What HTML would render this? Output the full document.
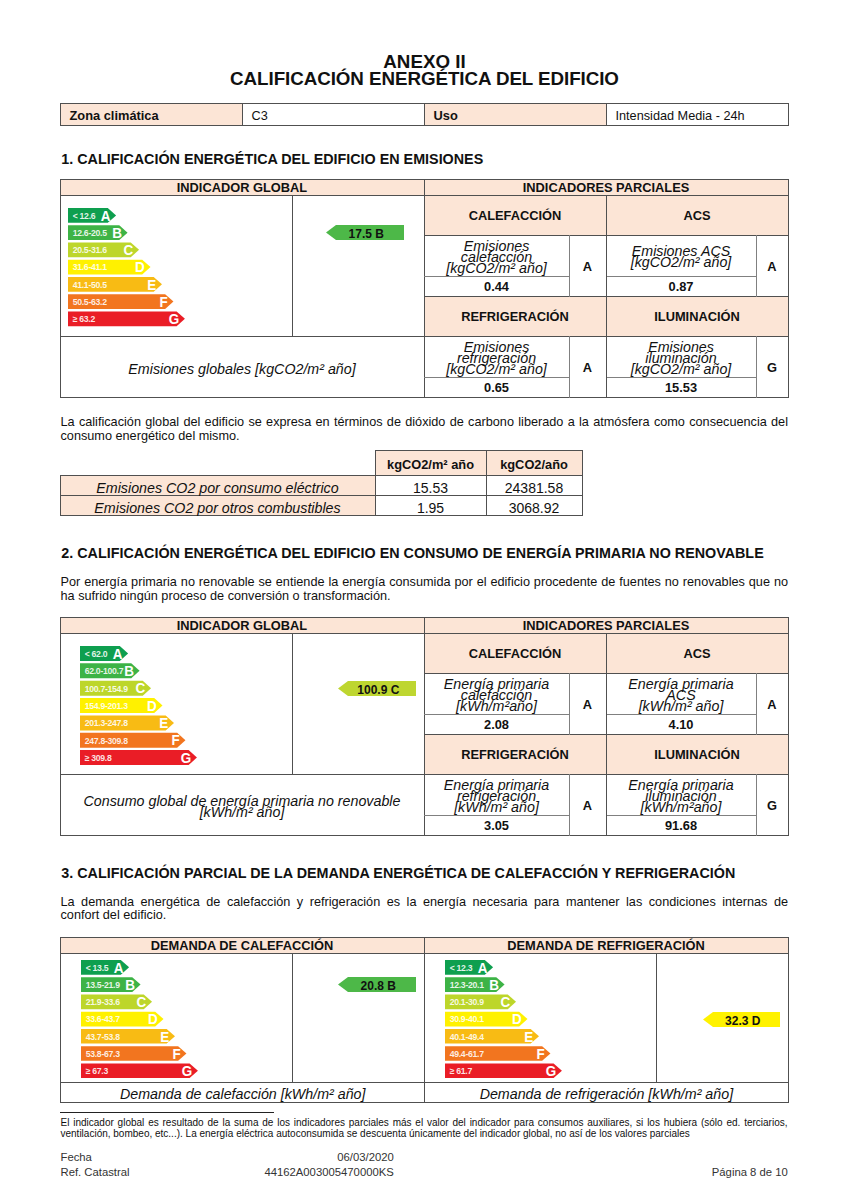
<!DOCTYPE html>
<html lang="es"><head><meta charset="utf-8"><title>Anexo II - Calificación energética del edificio</title>
<style>
*{margin:0;padding:0;box-sizing:border-box}
html,body{width:849px;height:1200px;background:#fff;overflow:hidden}
body{position:relative;font-family:"Liberation Sans",Arial,sans-serif;color:#111}
.t{position:absolute;white-space:nowrap;line-height:1}
.r{position:absolute}
.sc{position:absolute;overflow:visible}
.rg{font-family:"Liberation Sans",Arial,sans-serif;font-size:8.7px;font-weight:bold;fill:#fff;fill-opacity:.88;letter-spacing:-0.3px}
.lt{font-family:"Liberation Sans",Arial,sans-serif;font-size:15px;font-weight:bold;fill:#fff}
</style></head>
<body>
<div class="t" style="top:53.00px;font-size:18.8px;font-weight:bold;left:124.50px;width:600px;text-align:center;">ANEXO II</div>
<div class="t" style="top:70.00px;font-size:18.8px;font-weight:bold;left:124.50px;width:600px;text-align:center;letter-spacing:-0.07px;">CALIFICACIÓN ENERGÉTICA DEL EDIFICIO</div>
<div class="r" style="left:60px;top:103px;width:182px;height:22px;background:#FCE5D6"></div>
<div class="r" style="left:424px;top:103px;width:182px;height:22px;background:#FCE5D6"></div>
<div class="r" style="left:60px;top:103px;width:729px;height:1px;background:#505050"></div>
<div class="r" style="left:60px;top:125px;width:729px;height:1px;background:#505050"></div>
<div class="r" style="left:60px;top:103px;width:1px;height:23px;background:#505050"></div>
<div class="r" style="left:242px;top:103px;width:1px;height:23px;background:#505050"></div>
<div class="r" style="left:424px;top:103px;width:1px;height:23px;background:#505050"></div>
<div class="r" style="left:606px;top:103px;width:1px;height:23px;background:#505050"></div>
<div class="r" style="left:788px;top:103px;width:1px;height:23px;background:#505050"></div>
<div class="t" style="top:110.00px;font-size:12.83px;font-weight:bold;left:69.50px;">Zona climática</div>
<div class="t" style="top:110.00px;font-size:12.7px;left:251.50px;">C3</div>
<div class="t" style="top:110.00px;font-size:12.83px;font-weight:bold;left:433.50px;">Uso</div>
<div class="t" style="top:110.00px;font-size:12.7px;left:615.50px;">Intensidad Media - 24h</div>
<div class="t" style="top:152.00px;font-size:14.33px;font-weight:bold;left:61.30px;">1. CALIFICACIÓN ENERGÉTICA DEL EDIFICIO EN EMISIONES</div>
<div class="r" style="left:60px;top:179px;width:728px;height:16px;background:#FCE5D6"></div>
<div class="r" style="left:424px;top:195px;width:364px;height:40px;background:#FCE5D6"></div>
<div class="r" style="left:424px;top:296px;width:364px;height:40px;background:#FCE5D6"></div>
<div class="r" style="left:60px;top:179px;width:729px;height:1px;background:#505050"></div>
<div class="r" style="left:60px;top:195px;width:729px;height:1px;background:#505050"></div>
<div class="r" style="left:60px;top:397px;width:729px;height:1px;background:#505050"></div>
<div class="r" style="left:60px;top:179px;width:1px;height:219px;background:#505050"></div>
<div class="r" style="left:788px;top:179px;width:1px;height:219px;background:#505050"></div>
<div class="r" style="left:424px;top:179px;width:1px;height:219px;background:#505050"></div>
<div class="r" style="left:292px;top:195px;width:1px;height:142px;background:#505050"></div>
<div class="r" style="left:60px;top:336px;width:365px;height:1px;background:#505050"></div>
<div class="r" style="left:424px;top:235px;width:365px;height:1px;background:#505050"></div>
<div class="r" style="left:424px;top:296px;width:365px;height:1px;background:#505050"></div>
<div class="r" style="left:424px;top:336px;width:365px;height:1px;background:#505050"></div>
<div class="r" style="left:424px;top:276px;width:146px;height:1px;background:#808080"></div>
<div class="r" style="left:606px;top:276px;width:151px;height:1px;background:#808080"></div>
<div class="r" style="left:424px;top:377px;width:146px;height:1px;background:#808080"></div>
<div class="r" style="left:606px;top:377px;width:151px;height:1px;background:#808080"></div>
<div class="r" style="left:606px;top:195px;width:1px;height:203px;background:#505050"></div>
<div class="r" style="left:569px;top:235px;width:1px;height:62px;background:#808080"></div>
<div class="r" style="left:756px;top:235px;width:1px;height:62px;background:#808080"></div>
<div class="r" style="left:569px;top:336px;width:1px;height:62px;background:#808080"></div>
<div class="r" style="left:756px;top:336px;width:1px;height:62px;background:#808080"></div>
<div class="t" style="top:182.00px;font-size:12.83px;font-weight:bold;left:-58.00px;width:600px;text-align:center;">INDICADOR GLOBAL</div>
<div class="t" style="top:182.00px;font-size:12.83px;font-weight:bold;left:306.00px;width:600px;text-align:center;">INDICADORES PARCIALES</div>
<div class="t" style="top:210.00px;font-size:12.83px;font-weight:bold;left:215.00px;width:600px;text-align:center;">CALEFACCIÓN</div>
<div class="t" style="top:210.00px;font-size:12.83px;font-weight:bold;left:397.00px;width:600px;text-align:center;">ACS</div>
<div class="t" style="top:311.00px;font-size:12.83px;font-weight:bold;left:215.00px;width:600px;text-align:center;">REFRIGERACIÓN</div>
<div class="t" style="top:311.00px;font-size:12.83px;font-weight:bold;left:397.00px;width:600px;text-align:center;">ILUMINACIÓN</div>
<div class="t" style="top:239.00px;font-size:14.26px;font-style:italic;left:196.50px;width:600px;text-align:center;">Emisiones</div>
<div class="t" style="top:250.00px;font-size:14.26px;font-style:italic;left:196.50px;width:600px;text-align:center;">calefacción</div>
<div class="t" style="top:261.00px;font-size:14.26px;font-style:italic;left:196.50px;width:600px;text-align:center;">[kgCO2/m² año]</div>
<div class="t" style="top:244.00px;font-size:14.26px;font-style:italic;left:381.00px;width:600px;text-align:center;">Emisiones ACS</div>
<div class="t" style="top:255.00px;font-size:14.26px;font-style:italic;left:381.00px;width:600px;text-align:center;">[kgCO2/m² año]</div>
<div class="t" style="top:340.00px;font-size:14.26px;font-style:italic;left:196.50px;width:600px;text-align:center;">Emisiones</div>
<div class="t" style="top:351.00px;font-size:14.26px;font-style:italic;left:196.50px;width:600px;text-align:center;">refrigeración</div>
<div class="t" style="top:362.00px;font-size:14.26px;font-style:italic;left:196.50px;width:600px;text-align:center;">[kgCO2/m² año]</div>
<div class="t" style="top:340.00px;font-size:14.26px;font-style:italic;left:381.00px;width:600px;text-align:center;">Emisiones</div>
<div class="t" style="top:351.00px;font-size:14.26px;font-style:italic;left:381.00px;width:600px;text-align:center;">iluminación</div>
<div class="t" style="top:362.00px;font-size:14.26px;font-style:italic;left:381.00px;width:600px;text-align:center;">[kgCO2/m² año]</div>
<div class="t" style="top:281.00px;font-size:12.83px;font-weight:bold;left:196.50px;width:600px;text-align:center;">0.44</div>
<div class="t" style="top:281.00px;font-size:12.83px;font-weight:bold;left:381.00px;width:600px;text-align:center;">0.87</div>
<div class="t" style="top:382.00px;font-size:12.83px;font-weight:bold;left:196.50px;width:600px;text-align:center;">0.65</div>
<div class="t" style="top:382.00px;font-size:12.83px;font-weight:bold;left:381.00px;width:600px;text-align:center;">15.53</div>
<div class="t" style="top:261.00px;font-size:12.83px;font-weight:bold;left:287.50px;width:600px;text-align:center;">A</div>
<div class="t" style="top:261.00px;font-size:12.83px;font-weight:bold;left:472.00px;width:600px;text-align:center;">A</div>
<div class="t" style="top:362.00px;font-size:12.83px;font-weight:bold;left:287.50px;width:600px;text-align:center;">A</div>
<div class="t" style="top:362.00px;font-size:12.83px;font-weight:bold;left:472.00px;width:600px;text-align:center;">G</div>
<div class="t" style="top:362.00px;font-size:14.26px;font-style:italic;left:-58.00px;width:600px;text-align:center;">Emisiones globales [kgCO2/m² año]</div>
<svg class="sc" style="left:68.3px;top:207.8px" width="140" height="125" viewBox="0 0 140 125"><polygon points="0,0.00 39.80,0.00 48.10,7.40 39.80,14.80 0,14.80" fill="#0E9F4F"/><text x="4.7" y="10.80" class="rg">&lt; 12.6</text><text transform="translate(42.40,12.60) scale(0.9,1)" class="lt" text-anchor="end">A</text><polygon points="0,17.23 51.27,17.23 59.57,24.63 51.27,32.03 0,32.03" fill="#3DB346"/><text x="4.7" y="28.03" class="rg">12.6-20.5</text><text transform="translate(53.87,29.83) scale(0.9,1)" class="lt" text-anchor="end">B</text><polygon points="0,34.46 62.74,34.46 71.04,41.86 62.74,49.26 0,49.26" fill="#BDD62A"/><text x="4.7" y="45.26" class="rg">20.5-31.6</text><text transform="translate(65.34,47.06) scale(0.9,1)" class="lt" text-anchor="end">C</text><polygon points="0,51.69 74.21,51.69 82.51,59.09 74.21,66.49 0,66.49" fill="#FFF100"/><text x="4.7" y="62.49" class="rg">31.6-41.1</text><text transform="translate(76.81,64.29) scale(0.9,1)" class="lt" text-anchor="end">D</text><polygon points="0,68.92 85.68,68.92 93.98,76.32 85.68,83.72 0,83.72" fill="#F8BB14"/><text x="4.7" y="79.72" class="rg">41.1-50.5</text><text transform="translate(88.28,81.52) scale(0.9,1)" class="lt" text-anchor="end">E</text><polygon points="0,86.15 97.15,86.15 105.45,93.55 97.15,100.95 0,100.95" fill="#F2751F"/><text x="4.7" y="96.95" class="rg">50.5-63.2</text><text transform="translate(99.75,98.75) scale(0.9,1)" class="lt" text-anchor="end">F</text><polygon points="0,103.38 108.62,103.38 116.92,110.78 108.62,118.18 0,118.18" fill="#EA1D26"/><text x="4.7" y="114.18" class="rg">≥ 63.2</text><text transform="translate(111.22,115.98) scale(0.9,1)" class="lt" text-anchor="end">G</text></svg>
<svg class="sc" style="left:326px;top:225px" width="78" height="15" viewBox="0 0 78 15"><polygon points="0,7.5 10,0 78,0 78,15 10,15" fill="#4DB848"/></svg>
<div class="t" style="top:228.00px;font-size:12px;font-weight:bold;left:66.30px;width:600px;text-align:center;">17.5 B</div>
<div class="t" style="top:416.00px;left:60.5px;width:727.5px;font-size:12.7px;text-align:justify;text-align-last:justify;">La calificación global del edificio se expresa en términos de dióxido de carbono liberado a la atmósfera como consecuencia del</div>
<div class="t" style="top:430.00px;font-size:12.7px;left:60.50px;">consumo energético del mismo.</div>
<div class="r" style="left:375px;top:450px;width:207px;height:25px;background:#FCE5D6"></div>
<div class="r" style="left:60px;top:475px;width:315px;height:40px;background:#FCE5D6"></div>
<div class="r" style="left:375px;top:450px;width:208px;height:1px;background:#505050"></div>
<div class="r" style="left:60px;top:475px;width:523px;height:1px;background:#505050"></div>
<div class="r" style="left:60px;top:495px;width:523px;height:1px;background:#505050"></div>
<div class="r" style="left:60px;top:515px;width:523px;height:1px;background:#505050"></div>
<div class="r" style="left:60px;top:475px;width:1px;height:41px;background:#505050"></div>
<div class="r" style="left:375px;top:450px;width:1px;height:66px;background:#505050"></div>
<div class="r" style="left:486px;top:450px;width:1px;height:66px;background:#505050"></div>
<div class="r" style="left:582px;top:450px;width:1px;height:66px;background:#505050"></div>
<div class="t" style="top:459.00px;font-size:12.83px;font-weight:bold;left:130.50px;width:600px;text-align:center;">kgCO2/m² año</div>
<div class="t" style="top:459.00px;font-size:12.83px;font-weight:bold;left:234.00px;width:600px;text-align:center;">kgCO2/año</div>
<div class="t" style="top:481.00px;font-size:14.26px;font-style:italic;left:-82.50px;width:600px;text-align:center;">Emisiones CO2 por consumo eléctrico</div>
<div class="t" style="top:501.00px;font-size:14.26px;font-style:italic;left:-82.50px;width:600px;text-align:center;">Emisiones CO2 por otros combustibles</div>
<div class="t" style="top:481.00px;font-size:14px;left:130.50px;width:600px;text-align:center;">15.53</div>
<div class="t" style="top:481.00px;font-size:14px;left:234.00px;width:600px;text-align:center;">24381.58</div>
<div class="t" style="top:501.00px;font-size:14px;left:130.50px;width:600px;text-align:center;">1.95</div>
<div class="t" style="top:501.00px;font-size:14px;left:234.00px;width:600px;text-align:center;">3068.92</div>
<div class="t" style="top:546.00px;font-size:14.33px;font-weight:bold;left:61.30px;">2. CALIFICACIÓN ENERGÉTICA DEL EDIFICIO EN CONSUMO DE ENERGÍA PRIMARIA NO RENOVABLE</div>
<div class="t" style="top:576.00px;left:60.5px;width:727.5px;font-size:12.7px;text-align:justify;text-align-last:justify;">Por energía primaria no renovable se entiende la energía consumida por el edificio procedente de fuentes no renovables que no</div>
<div class="t" style="top:590.00px;font-size:12.7px;left:60.50px;">ha sufrido ningún proceso de conversión o transformación.</div>
<div class="r" style="left:60px;top:617px;width:728px;height:16px;background:#FCE5D6"></div>
<div class="r" style="left:424px;top:633px;width:364px;height:40px;background:#FCE5D6"></div>
<div class="r" style="left:424px;top:734px;width:364px;height:40px;background:#FCE5D6"></div>
<div class="r" style="left:60px;top:617px;width:729px;height:1px;background:#505050"></div>
<div class="r" style="left:60px;top:633px;width:729px;height:1px;background:#505050"></div>
<div class="r" style="left:60px;top:835px;width:729px;height:1px;background:#505050"></div>
<div class="r" style="left:60px;top:617px;width:1px;height:219px;background:#505050"></div>
<div class="r" style="left:788px;top:617px;width:1px;height:219px;background:#505050"></div>
<div class="r" style="left:424px;top:617px;width:1px;height:219px;background:#505050"></div>
<div class="r" style="left:292px;top:633px;width:1px;height:142px;background:#505050"></div>
<div class="r" style="left:60px;top:774px;width:365px;height:1px;background:#505050"></div>
<div class="r" style="left:424px;top:673px;width:365px;height:1px;background:#505050"></div>
<div class="r" style="left:424px;top:734px;width:365px;height:1px;background:#505050"></div>
<div class="r" style="left:424px;top:774px;width:365px;height:1px;background:#505050"></div>
<div class="r" style="left:424px;top:714px;width:146px;height:1px;background:#808080"></div>
<div class="r" style="left:606px;top:714px;width:151px;height:1px;background:#808080"></div>
<div class="r" style="left:424px;top:815px;width:146px;height:1px;background:#808080"></div>
<div class="r" style="left:606px;top:815px;width:151px;height:1px;background:#808080"></div>
<div class="r" style="left:606px;top:633px;width:1px;height:203px;background:#505050"></div>
<div class="r" style="left:569px;top:673px;width:1px;height:62px;background:#808080"></div>
<div class="r" style="left:756px;top:673px;width:1px;height:62px;background:#808080"></div>
<div class="r" style="left:569px;top:774px;width:1px;height:62px;background:#808080"></div>
<div class="r" style="left:756px;top:774px;width:1px;height:62px;background:#808080"></div>
<div class="t" style="top:620.00px;font-size:12.83px;font-weight:bold;left:-58.00px;width:600px;text-align:center;">INDICADOR GLOBAL</div>
<div class="t" style="top:620.00px;font-size:12.83px;font-weight:bold;left:306.00px;width:600px;text-align:center;">INDICADORES PARCIALES</div>
<div class="t" style="top:648.00px;font-size:12.83px;font-weight:bold;left:215.00px;width:600px;text-align:center;">CALEFACCIÓN</div>
<div class="t" style="top:648.00px;font-size:12.83px;font-weight:bold;left:397.00px;width:600px;text-align:center;">ACS</div>
<div class="t" style="top:749.00px;font-size:12.83px;font-weight:bold;left:215.00px;width:600px;text-align:center;">REFRIGERACIÓN</div>
<div class="t" style="top:749.00px;font-size:12.83px;font-weight:bold;left:397.00px;width:600px;text-align:center;">ILUMINACIÓN</div>
<div class="t" style="top:677.00px;font-size:14.26px;font-style:italic;left:196.50px;width:600px;text-align:center;">Energía primaria</div>
<div class="t" style="top:688.00px;font-size:14.26px;font-style:italic;left:196.50px;width:600px;text-align:center;">calefacción</div>
<div class="t" style="top:699.00px;font-size:14.26px;font-style:italic;left:196.50px;width:600px;text-align:center;">[kWh/m²año]</div>
<div class="t" style="top:677.00px;font-size:14.26px;font-style:italic;left:381.00px;width:600px;text-align:center;">Energía primaria</div>
<div class="t" style="top:688.00px;font-size:14.26px;font-style:italic;left:381.00px;width:600px;text-align:center;">ACS</div>
<div class="t" style="top:699.00px;font-size:14.26px;font-style:italic;left:381.00px;width:600px;text-align:center;">[kWh/m² año]</div>
<div class="t" style="top:778.00px;font-size:14.26px;font-style:italic;left:196.50px;width:600px;text-align:center;">Energía primaria</div>
<div class="t" style="top:789.00px;font-size:14.26px;font-style:italic;left:196.50px;width:600px;text-align:center;">refrigeración</div>
<div class="t" style="top:800.00px;font-size:14.26px;font-style:italic;left:196.50px;width:600px;text-align:center;">[kWh/m² año]</div>
<div class="t" style="top:778.00px;font-size:14.26px;font-style:italic;left:381.00px;width:600px;text-align:center;">Energía primaria</div>
<div class="t" style="top:789.00px;font-size:14.26px;font-style:italic;left:381.00px;width:600px;text-align:center;">iluminación</div>
<div class="t" style="top:800.00px;font-size:14.26px;font-style:italic;left:381.00px;width:600px;text-align:center;">[kWh/m²año]</div>
<div class="t" style="top:719.00px;font-size:12.83px;font-weight:bold;left:196.50px;width:600px;text-align:center;">2.08</div>
<div class="t" style="top:719.00px;font-size:12.83px;font-weight:bold;left:381.00px;width:600px;text-align:center;">4.10</div>
<div class="t" style="top:820.00px;font-size:12.83px;font-weight:bold;left:196.50px;width:600px;text-align:center;">3.05</div>
<div class="t" style="top:820.00px;font-size:12.83px;font-weight:bold;left:381.00px;width:600px;text-align:center;">91.68</div>
<div class="t" style="top:699.00px;font-size:12.83px;font-weight:bold;left:287.50px;width:600px;text-align:center;">A</div>
<div class="t" style="top:699.00px;font-size:12.83px;font-weight:bold;left:472.00px;width:600px;text-align:center;">A</div>
<div class="t" style="top:800.00px;font-size:12.83px;font-weight:bold;left:287.50px;width:600px;text-align:center;">A</div>
<div class="t" style="top:800.00px;font-size:12.83px;font-weight:bold;left:472.00px;width:600px;text-align:center;">G</div>
<div class="t" style="top:794.00px;font-size:14.26px;font-style:italic;left:-58.00px;width:600px;text-align:center;">Consumo global de energía primaria no renovable</div>
<div class="t" style="top:805.00px;font-size:14.26px;font-style:italic;left:-58.00px;width:600px;text-align:center;">[kWh/m² año]</div>
<svg class="sc" style="left:80.3px;top:645.8px" width="140" height="125" viewBox="0 0 140 125"><polygon points="0,0.00 39.80,0.00 48.10,7.50 39.80,15.00 0,15.00" fill="#0E9F4F"/><text x="4.7" y="10.80" class="rg">&lt; 62.0</text><text transform="translate(42.40,12.60) scale(0.9,1)" class="lt" text-anchor="end">A</text><polygon points="0,17.35 51.27,17.35 59.57,24.85 51.27,32.35 0,32.35" fill="#3DB346"/><text x="4.7" y="28.15" class="rg">62.0-100.7</text><text transform="translate(53.87,29.95) scale(0.9,1)" class="lt" text-anchor="end">B</text><polygon points="0,34.70 62.74,34.70 71.04,42.20 62.74,49.70 0,49.70" fill="#BDD62A"/><text x="4.7" y="45.50" class="rg">100.7-154.9</text><text transform="translate(65.34,47.30) scale(0.9,1)" class="lt" text-anchor="end">C</text><polygon points="0,52.05 74.21,52.05 82.51,59.55 74.21,67.05 0,67.05" fill="#FFF100"/><text x="4.7" y="62.85" class="rg">154.9-201.3</text><text transform="translate(76.81,64.65) scale(0.9,1)" class="lt" text-anchor="end">D</text><polygon points="0,69.40 85.68,69.40 93.98,76.90 85.68,84.40 0,84.40" fill="#F8BB14"/><text x="4.7" y="80.20" class="rg">201.3-247.8</text><text transform="translate(88.28,82.00) scale(0.9,1)" class="lt" text-anchor="end">E</text><polygon points="0,86.75 97.15,86.75 105.45,94.25 97.15,101.75 0,101.75" fill="#F2751F"/><text x="4.7" y="97.55" class="rg">247.8-309.8</text><text transform="translate(99.75,99.35) scale(0.9,1)" class="lt" text-anchor="end">F</text><polygon points="0,104.10 108.62,104.10 116.92,111.60 108.62,119.10 0,119.10" fill="#EA1D26"/><text x="4.7" y="114.90" class="rg">≥ 309.8</text><text transform="translate(111.22,116.70) scale(0.9,1)" class="lt" text-anchor="end">G</text></svg>
<svg class="sc" style="left:338px;top:681px" width="78" height="15" viewBox="0 0 78 15"><polygon points="0,7.5 10,0 78,0 78,15 10,15" fill="#BED630"/></svg>
<div class="t" style="top:684.00px;font-size:12px;font-weight:bold;left:78.30px;width:600px;text-align:center;">100.9 C</div>
<div class="t" style="top:866.00px;font-size:14.33px;font-weight:bold;left:61.30px;">3. CALIFICACIÓN PARCIAL DE LA DEMANDA ENERGÉTICA DE CALEFACCIÓN Y REFRIGERACIÓN</div>
<div class="t" style="top:896.00px;left:60.5px;width:727.5px;font-size:12.7px;text-align:justify;text-align-last:justify;">La demanda energética de calefacción y refrigeración es la energía necesaria para mantener las condiciones internas de</div>
<div class="t" style="top:909.00px;font-size:12.7px;left:60.50px;">confort del edificio.</div>
<div class="r" style="left:60px;top:937px;width:728px;height:16px;background:#FCE5D6"></div>
<div class="r" style="left:60px;top:937px;width:729px;height:1px;background:#505050"></div>
<div class="r" style="left:60px;top:953px;width:729px;height:1px;background:#505050"></div>
<div class="r" style="left:60px;top:1082px;width:729px;height:1px;background:#505050"></div>
<div class="r" style="left:60px;top:1102px;width:729px;height:1px;background:#505050"></div>
<div class="r" style="left:60px;top:937px;width:1px;height:166px;background:#505050"></div>
<div class="r" style="left:424px;top:937px;width:1px;height:166px;background:#505050"></div>
<div class="r" style="left:788px;top:937px;width:1px;height:166px;background:#505050"></div>
<div class="r" style="left:292px;top:953px;width:1px;height:130px;background:#505050"></div>
<div class="r" style="left:656px;top:953px;width:1px;height:130px;background:#505050"></div>
<div class="t" style="top:940.00px;font-size:12.83px;font-weight:bold;left:-58.00px;width:600px;text-align:center;">DEMANDA DE CALEFACCIÓN</div>
<div class="t" style="top:940.00px;font-size:12.83px;font-weight:bold;left:306.00px;width:600px;text-align:center;">DEMANDA DE REFRIGERACIÓN</div>
<div class="t" style="top:1087.00px;font-size:14.26px;font-style:italic;left:-57.30px;width:600px;text-align:center;">Demanda de calefacción [kWh/m² año]</div>
<div class="t" style="top:1087.00px;font-size:14.26px;font-style:italic;left:306.40px;width:600px;text-align:center;">Demanda de refrigeración [kWh/m² año]</div>
<svg class="sc" style="left:80.8px;top:959.9px" width="140" height="125" viewBox="0 0 140 125"><polygon points="0,0.00 39.80,0.00 48.10,7.35 39.80,14.70 0,14.70" fill="#0E9F4F"/><text x="4.7" y="10.80" class="rg">&lt; 13.5</text><text transform="translate(42.40,12.60) scale(0.9,1)" class="lt" text-anchor="end">A</text><polygon points="0,17.23 51.27,17.23 59.57,24.58 51.27,31.93 0,31.93" fill="#3DB346"/><text x="4.7" y="28.03" class="rg">13.5-21.9</text><text transform="translate(53.87,29.83) scale(0.9,1)" class="lt" text-anchor="end">B</text><polygon points="0,34.46 62.74,34.46 71.04,41.81 62.74,49.16 0,49.16" fill="#BDD62A"/><text x="4.7" y="45.26" class="rg">21.9-33.6</text><text transform="translate(65.34,47.06) scale(0.9,1)" class="lt" text-anchor="end">C</text><polygon points="0,51.69 74.21,51.69 82.51,59.04 74.21,66.39 0,66.39" fill="#FFF100"/><text x="4.7" y="62.49" class="rg">33.6-43.7</text><text transform="translate(76.81,64.29) scale(0.9,1)" class="lt" text-anchor="end">D</text><polygon points="0,68.92 85.68,68.92 93.98,76.27 85.68,83.62 0,83.62" fill="#F8BB14"/><text x="4.7" y="79.72" class="rg">43.7-53.8</text><text transform="translate(88.28,81.52) scale(0.9,1)" class="lt" text-anchor="end">E</text><polygon points="0,86.15 97.15,86.15 105.45,93.50 97.15,100.85 0,100.85" fill="#F2751F"/><text x="4.7" y="96.95" class="rg">53.8-67.3</text><text transform="translate(99.75,98.75) scale(0.9,1)" class="lt" text-anchor="end">F</text><polygon points="0,103.38 108.62,103.38 116.92,110.73 108.62,118.08 0,118.08" fill="#EA1D26"/><text x="4.7" y="114.18" class="rg">≥ 67.3</text><text transform="translate(111.22,115.98) scale(0.9,1)" class="lt" text-anchor="end">G</text></svg>
<svg class="sc" style="left:444.6px;top:960.1px" width="140" height="125" viewBox="0 0 140 125"><polygon points="0,0.00 39.80,0.00 48.10,7.35 39.80,14.70 0,14.70" fill="#0E9F4F"/><text x="4.7" y="10.80" class="rg">&lt; 12.3</text><text transform="translate(42.40,12.60) scale(0.9,1)" class="lt" text-anchor="end">A</text><polygon points="0,17.23 51.27,17.23 59.57,24.58 51.27,31.93 0,31.93" fill="#3DB346"/><text x="4.7" y="28.03" class="rg">12.3-20.1</text><text transform="translate(53.87,29.83) scale(0.9,1)" class="lt" text-anchor="end">B</text><polygon points="0,34.46 62.74,34.46 71.04,41.81 62.74,49.16 0,49.16" fill="#BDD62A"/><text x="4.7" y="45.26" class="rg">20.1-30.9</text><text transform="translate(65.34,47.06) scale(0.9,1)" class="lt" text-anchor="end">C</text><polygon points="0,51.69 74.21,51.69 82.51,59.04 74.21,66.39 0,66.39" fill="#FFF100"/><text x="4.7" y="62.49" class="rg">30.9-40.1</text><text transform="translate(76.81,64.29) scale(0.9,1)" class="lt" text-anchor="end">D</text><polygon points="0,68.92 85.68,68.92 93.98,76.27 85.68,83.62 0,83.62" fill="#F8BB14"/><text x="4.7" y="79.72" class="rg">40.1-49.4</text><text transform="translate(88.28,81.52) scale(0.9,1)" class="lt" text-anchor="end">E</text><polygon points="0,86.15 97.15,86.15 105.45,93.50 97.15,100.85 0,100.85" fill="#F2751F"/><text x="4.7" y="96.95" class="rg">49.4-61.7</text><text transform="translate(99.75,98.75) scale(0.9,1)" class="lt" text-anchor="end">F</text><polygon points="0,103.38 108.62,103.38 116.92,110.73 108.62,118.08 0,118.08" fill="#EA1D26"/><text x="4.7" y="114.18" class="rg">≥ 61.7</text><text transform="translate(111.22,115.98) scale(0.9,1)" class="lt" text-anchor="end">G</text></svg>
<svg class="sc" style="left:338px;top:977px" width="78" height="15" viewBox="0 0 78 15"><polygon points="0,7.5 10,0 78,0 78,15 10,15" fill="#4DB848"/></svg>
<div class="t" style="top:980.00px;font-size:12px;font-weight:bold;left:78.30px;width:600px;text-align:center;">20.8 B</div>
<svg class="sc" style="left:703px;top:1012px" width="77" height="15" viewBox="0 0 77 15"><polygon points="0,7.5 10,0 77,0 77,15 10,15" fill="#FFF200"/></svg>
<div class="t" style="top:1015.00px;font-size:12px;font-weight:bold;left:442.80px;width:600px;text-align:center;">32.3 D</div>
<div class="r" style="left:60px;top:1112px;width:214px;height:1px;background:#222"></div>
<div class="t" style="top:1118.00px;left:60.5px;width:727px;font-size:10px;text-align:justify;text-align-last:justify;">El indicador global es resultado de la suma de los indicadores parciales más el valor del indicador para consumos auxiliares, si los hubiera (sólo ed. terciarios,</div>
<div class="t" style="top:1129.00px;font-size:10px;left:60.50px;">ventilación, bombeo, etc...). La energía eléctrica autoconsumida se descuenta únicamente del indicador global, no así de los valores parciales</div>
<div class="t" style="top:1152.00px;font-size:11.3px;color:#333;left:60.50px;">Fecha</div>
<div class="t" style="top:1167.00px;font-size:11.3px;color:#333;left:60.50px;">Ref. Catastral</div>
<div class="t" style="top:1152.00px;font-size:11.3px;color:#333;left:-206.20px;width:600px;text-align:right;">06/03/2020</div>
<div class="t" style="top:1167.00px;font-size:11.3px;color:#333;left:-206.20px;width:600px;text-align:right;">44162A003005470000KS</div>
<div class="t" style="top:1167.00px;font-size:11.3px;color:#333;left:187.80px;width:600px;text-align:right;">Página 8 de 10</div>
</body></html>
